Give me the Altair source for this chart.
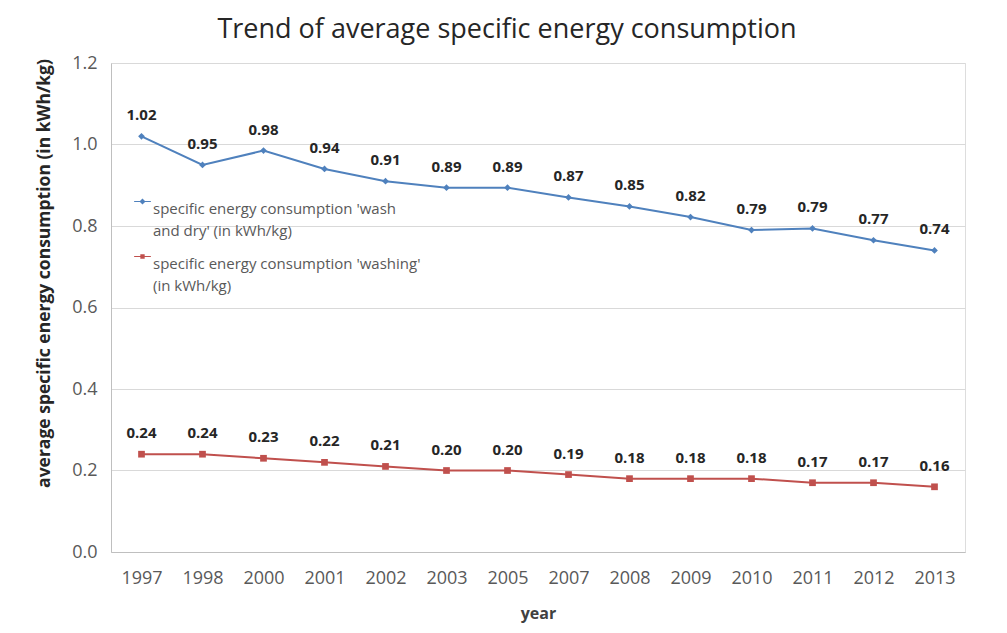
import altair as alt
import pandas as pd

years = ["1997", "1998", "2000", "2001", "2002", "2003", "2005", "2007",
         "2008", "2009", "2010", "2011", "2012", "2013"]
wash_dry = [1.02, 0.95, 0.985, 0.94, 0.91, 0.894, 0.894, 0.87, 0.848, 0.822,
            0.79, 0.794, 0.765, 0.74]
washing = [0.24, 0.24, 0.23, 0.22, 0.21, 0.20, 0.20, 0.19, 0.18, 0.18, 0.18,
           0.17, 0.17, 0.16]
series_names = ["specific energy consumption 'wash and dry' (in kWh/kg)",
                "specific energy consumption 'washing' (in kWh/kg)"]
colors = ["#4F81BD", "#C0504D"]
marker_shapes = ["diamond", "square"]

rows = []
for y, v in zip(years, wash_dry):
    rows.append({"year": y, "value": v, "series": series_names[0]})
for y, v in zip(years, washing):
    rows.append({"year": y, "value": v, "series": series_names[1]})
df = pd.DataFrame(rows)

FONT = "Open Sans"
# legend glyphs: short line with a marker (both sub-paths clockwise)
LEG_DIAMOND = "M-1,-0.07L1,-0.07L1,0.07L-1,0.07Z M0,-0.36L0.36,0L0,0.36L-0.36,0Z"
LEG_SQUARE = "M-1,-0.07L1,-0.07L1,0.07L-1,0.07Z M-0.26,-0.26L0.26,-0.26L0.26,0.26L-0.26,0.26Z"

color_scale = alt.Scale(domain=series_names, range=colors)

x_enc = alt.X("year:O", sort=years, title="year",
              scale=alt.Scale(type="point", padding=0.5),
              axis=alt.Axis(labelAngle=0, labelFontSize=18, labelColor="#595959",
                            labelFont=FONT, titleFont=FONT, titleFontSize=16,
                            titleFontWeight="bold", titleColor="#404040",
                            titlePadding=18, labelPadding=17, ticks=False,
                            domainColor="#BFBFBF", grid=False))
y_enc = alt.Y("value:Q", title="average specific energy consumption (in kWh/kg)",
              scale=alt.Scale(domain=[0, 1.2], nice=False),
              axis=alt.Axis(values=[0, 0.2, 0.4, 0.6, 0.8, 1.0, 1.2], format=".1f",
                            labelFontSize=18, labelColor="#595959", labelFont=FONT,
                            titleFont=FONT, titleFontSize=17.5, titleFontWeight="bold",
                            titleColor="#262626", titlePadding=18, labelPadding=14,
                            titleY=210,
                            ticks=False, domainColor="#BFBFBF",
                            gridColor="#D9D9D9", gridWidth=1.2))

legend = alt.Legend(
    title=None, orient="none", legendX=23, legendY=130,
    labelFont=FONT, labelFontSize=15, labelColor="#595959",
    labelLimit=400, rowPadding=9, symbolOpacity=1, symbolSize=280,
    symbolStrokeWidth=0,
    labelExpr='indexof(datum.label, "and dry") >= 0 ? '
              '["specific energy consumption \'wash", "and dry\' (in kWh/kg)"] : '
              '["specific energy consumption \'washing\'", "(in kWh/kg)"]',
    labelBaseline="top", labelOffset=2)

base = alt.Chart(df).encode(x=x_enc, y=y_enc)

lines = base.mark_line(strokeWidth=2).encode(
    color=alt.Color("series:N", sort=series_names, scale=color_scale, legend=legend))

legend_layer = base.mark_point(filled=True, opacity=0).encode(
    color=alt.Color("series:N", sort=series_names, scale=color_scale, legend=legend),
    shape=alt.Shape("series:N", sort=series_names,
                    scale=alt.Scale(domain=series_names, range=[LEG_DIAMOND, LEG_SQUARE]),
                    legend=legend))

pt_layers = []
for name, shp in zip(series_names, marker_shapes):
    pt_layers.append(
        base.transform_filter(alt.datum.series == name)
        .mark_point(filled=True, size=45, opacity=1, shape=shp)
        .encode(color=alt.Color("series:N", scale=color_scale, legend=legend)))

labels = base.mark_text(dy=-21, fontSize=15, fontWeight="bold", font=FONT,
                        color="#262626").encode(text=alt.Text("value:Q", format=".2f"))

chart = alt.layer(lines, legend_layer, *pt_layers, labels).properties(
    width=854, height=489,
    title=alt.Title("Trend of average specific energy consumption", fontSize=27,
                    font=FONT, fontWeight="normal", color="#262626", dx=-31, offset=10),
    autosize=alt.AutoSizeParams(type="none"),
    padding={"left": 103, "top": 55, "right": 30, "bottom": 75},
).configure_view(stroke=None).configure(
    style={"guide-label": {"lineHeight": 22}})

chart.save("out.html", embed_options={"renderer": "svg", "actions": False})
